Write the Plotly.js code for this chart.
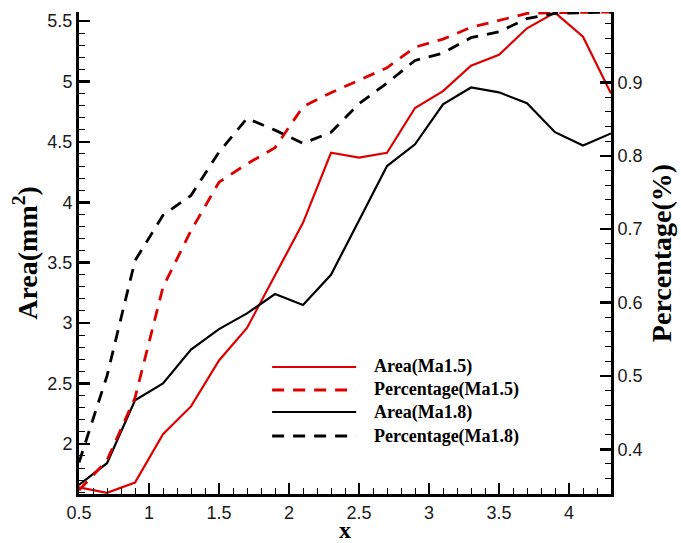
<!DOCTYPE html>
<html>
<head>
<meta charset="utf-8">
<script src="https://cdn.plot.ly/plotly-3.0.1.min.js"></script>
<style>html,body{margin:0;padding:0;background:#fff;}#chart{width:681px;height:543px;}</style>
</head>
<body>
<div id="chart"></div>
<script>
// ---- data ----
const xValues = [0.5, 0.7, 0.9, 1.1, 1.3, 1.5, 1.7, 1.9, 2.1, 2.3, 2.5, 2.7, 2.9, 3.1, 3.3, 3.5, 3.7, 3.9, 4.1, 4.3];
const areaMa15 = [1.64, 1.595, 1.68, 2.08, 2.31, 2.69, 2.96, 3.40, 3.83, 4.41, 4.37, 4.41, 4.78, 4.92, 5.13, 5.22, 5.44, 5.57, 5.37, 4.90];
const pctMa15  = [0.344, 0.385, 0.470, 0.621, 0.698, 0.764, 0.789, 0.811, 0.867, 0.886, 0.903, 0.920, 0.948, 0.959, 0.975, 0.984, 0.994, 0.995, 0.996, 0.996];
const areaMa18 = [1.66, 1.84, 2.36, 2.50, 2.78, 2.95, 3.08, 3.24, 3.15, 3.40, 3.85, 4.30, 4.48, 4.81, 4.95, 4.91, 4.82, 4.58, 4.47, 4.57];
const pctMa18  = [0.382, 0.500, 0.657, 0.719, 0.746, 0.805, 0.851, 0.835, 0.817, 0.832, 0.871, 0.899, 0.930, 0.940, 0.961, 0.969, 0.987, 0.994, 0.995, 0.996];
const seriesNames = ['Area(Ma1.5)', 'Percentage(Ma1.5)', 'Area(Ma1.8)', 'Percentage(Ma1.8)'];
const xTitle = 'x';
const yTitle = 'Area(mm<sup>2</sup>)';
const y2Title = 'Percentage(%)';

const RED = '#dd0000', BLACK = '#000000';
const DASH = '12px,9px';

const traces = [
  {x: xValues, y: areaMa15, name: seriesNames[0], yaxis: 'y', mode: 'lines', line: {color: RED, width: 2.2}},
  {x: xValues, y: pctMa15, name: seriesNames[1], yaxis: 'y2', mode: 'lines', line: {color: RED, width: 2.8, dash: DASH}},
  {x: xValues, y: areaMa18, name: seriesNames[2], yaxis: 'y', mode: 'lines', line: {color: BLACK, width: 2.2}},
  {x: xValues, y: pctMa18, name: seriesNames[3], yaxis: 'y2', mode: 'lines', line: {color: BLACK, width: 2.8, dash: DASH}}
];

const tickFont = {family: 'Liberation Sans, Arial, sans-serif', size: 18, color: '#1a1a1a'};
const titleFont = {family: 'Liberation Serif, Times New Roman, serif', size: 28, color: '#000'};

const axisCommon = {
  showgrid: false, zeroline: false, showline: true, linecolor: '#000', linewidth: 3,
  ticks: 'inside', ticklen: 11, tickwidth: 2.5, tickcolor: '#000',
  tickfont: tickFont, mirror: false
};

// manual legend (shapes + text) matching the reference
const legendStyles = [
  {color: RED, dash: 'solid', width: 2.2},
  {color: RED, dash: DASH, width: 2.8},
  {color: BLACK, dash: 'solid', width: 2.2},
  {color: BLACK, dash: DASH, width: 2.8}
];
const legendRowsY = [0.2635, 0.2158, 0.1701, 0.1203];
const shapes = [], annotations = [];
legendStyles.forEach((s, i) => {
  shapes.push({type: 'line', xref: 'paper', yref: 'paper', x0: 0.363, x1: 0.521, y0: legendRowsY[i], y1: legendRowsY[i],
    line: {color: s.color, width: s.width, dash: s.dash}});
  annotations.push({xref: 'paper', yref: 'paper', x: 0.551, y: legendRowsY[i], xanchor: 'left', yanchor: 'middle',
    text: '<b>' + seriesNames[i] + '</b>', showarrow: false,
    font: {family: 'Liberation Serif, Times New Roman, serif', size: 18, color: '#000'}});
});

const layout = {
  width: 681, height: 543,
  margin: {l: 79, r: 70, t: 12, b: 49},
  paper_bgcolor: '#fff', plot_bgcolor: '#fff',
  showlegend: false,
  xaxis: Object.assign({}, axisCommon, {
    range: [0.5, 4.3], tick0: 0.5, dtick: 0.5,
    minor: {dtick: 0.1, ticks: 'inside', ticklen: 6, tickwidth: 1, tickcolor: '#000'},
    title: {text: '<b>' + xTitle + '</b>', font: Object.assign({}, titleFont, {size: 24}), standoff: 10}
  }),
  yaxis: Object.assign({}, axisCommon, {
    range: [1.585, 5.575], tick0: 0, dtick: 0.5,
    minor: {dtick: 0.1, ticks: 'inside', ticklen: 6, tickwidth: 1, tickcolor: '#000'},
    title: {text: '<b>' + yTitle + '</b>', font: titleFont, standoff: 2}
  }),
  yaxis2: Object.assign({}, axisCommon, {
    overlaying: 'y', side: 'right',
    range: [0.339, 0.996], tick0: 0, dtick: 0.1,
    minor: {dtick: 0.02, ticks: 'inside', ticklen: 6, tickwidth: 1, tickcolor: '#000'},
    title: {text: '<b>' + y2Title + '</b>', font: titleFont, standoff: 10}
  }),
  shapes: shapes,
  annotations: annotations
};

Plotly.newPlot('chart', traces, layout, {staticPlot: true, displayModeBar: false});
</script>
</body>
</html>
